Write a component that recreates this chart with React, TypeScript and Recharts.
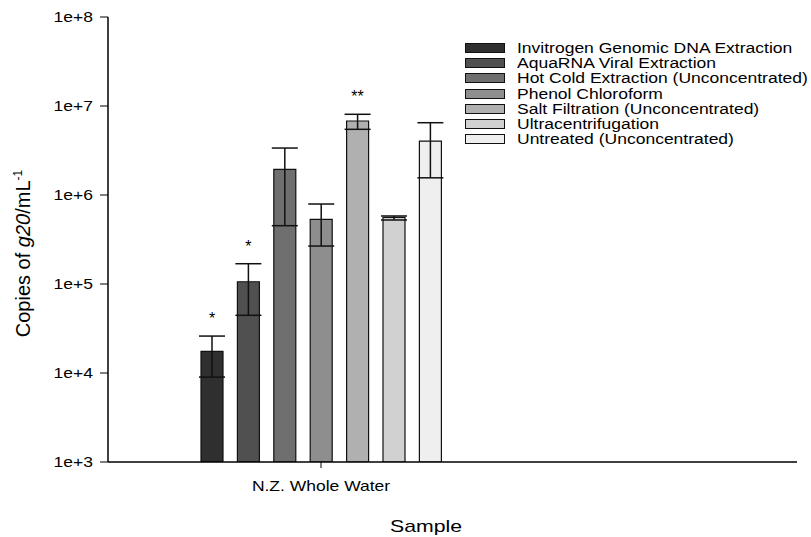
import React from 'react';
import { BarChart, Bar, XAxis, YAxis, ErrorBar, Legend, LabelList, Label } from 'recharts';

const categories = ['N.Z. Whole Water'];
const seriesNames = [
  'Invitrogen Genomic DNA Extraction',
  'AquaRNA Viral Extraction',
  'Hot Cold Extraction (Unconcentrated)',
  'Phenol Chloroform',
  'Salt Filtration (Unconcentrated)',
  'Ultracentrifugation',
  'Untreated (Unconcentrated)',
];
const means = [17500, 106000, 1940000, 533000, 6780000, 561000, 4040000];
const errLower = [9000, 44500, 452000, 267000, 5470000, 524000, 1560000];
const errUpper = [26000, 169000, 3370000, 792000, 8070000, 581000, 6490000];
const significance = ['*', '*', '', '', '**', '', ''];
const yTicks = [1e3, 1e4, 1e5, 1e6, 1e7, 1e8];
const yTickLabels = ['1e+3', '1e+4', '1e+5', '1e+6', '1e+7', '1e+8'];

const fills = ['#2f2f2f', '#505050', '#6f6f6f', '#8e8e8e', '#b0b0b0', '#d1d1d1', '#efefef'];
const FONT = '"Liberation Sans", Arial, sans-serif';
const Y_MIN = 1e3;
const SX = 1.25; // horizontal text stretch seen in the reference

const data = categories.map((name) => {
  const row: Record<string, any> = { name };
  seriesNames.forEach((_, i) => {
    row[`s${i}`] = means[i];
    row[`e${i}`] = [means[i] - errLower[i], errUpper[i] - means[i]];
    row[`sig${i}`] = significance[i];
  });
  return row;
});

const makeSigLabel = (i: number) => (props: any) => {
  const { x, y, width, height, value } = props;
  if (!value) return null;
  const v = means[i];
  const pxPerDecade = height / (Math.log10(v) - Math.log10(Y_MIN));
  const errTopY = y - pxPerDecade * Math.log10(errUpper[i] / v);
  return (
    <text x={x + width / 2} y={errTopY - 12} textAnchor="middle" fontSize={16} fontFamily={FONT} fill="#000">
      {value}
    </text>
  );
};

const renderLegend = () => (
  <div style={{ fontFamily: FONT, fontSize: 14, color: '#000' }}>
    {seriesNames.map((n, i) => (
      <div key={n} style={{ display: 'flex', alignItems: 'center', height: 15.3 }}>
        <span
          style={{
            display: 'inline-block',
            width: 40,
            height: 10,
            background: fills[i],
            border: '1px solid #111',
            boxSizing: 'border-box',
            marginRight: 12,
            flex: 'none',
          }}
        />
        <span
          style={{
            whiteSpace: 'nowrap',
            display: 'inline-block',
            transform: `scaleX(${SX})`,
            transformOrigin: 'left center',
          }}
        >
          {n}
        </span>
      </div>
    ))}
  </div>
);

const YTick = (props: any) => {
  const { x, y, payload } = props;
  const label = yTickLabels[yTicks.indexOf(payload.value)] ?? String(payload.value);
  return (
    <text
      transform={`translate(${x}, ${y}) scale(${SX}, 1)`}
      textAnchor="end"
      dy="0.355em"
      fontSize={14}
      fontFamily={FONT}
      fill="#000"
    >
      {label}
    </text>
  );
};

const XTick = (props: any) => {
  const { x, y, payload } = props;
  return (
    <text
      transform={`translate(${x}, ${y}) scale(${SX}, 1)`}
      textAnchor="middle"
      dy="0.71em"
      fontSize={14}
      fontFamily={FONT}
      fill="#000"
    >
      {payload.value}
    </text>
  );
};

const YTitle = (props: any) => {
  const { viewBox } = props;
  const cy = viewBox.y + viewBox.height / 2 + 14;
  return (
    <text transform={`translate(30, ${cy}) rotate(-90)`} textAnchor="middle" fontSize={20} fontFamily={FONT} fill="#000">
      Copies of <tspan fontStyle="italic">g20</tspan>/mL
      <tspan dy={-8} fontSize={12}>-1</tspan>
    </text>
  );
};

const XTitle = () => (
  <text
    transform={`translate(426, 532) scale(${SX}, 1)`}
    textAnchor="middle"
    fontSize={17}
    fontFamily={FONT}
    fill="#000"
  >
    Sample
  </text>
);

export default function App() {
  return (
    <div style={{ position: 'absolute', left: 0, top: 0, background: '#fff' }}>
      <BarChart
        width={811}
        height={537}
        data={data}
        margin={{ top: 17, right: 14, left: 48, bottom: 35 }}
        barGap={14.4}
        style={{ fontFamily: FONT }}
      >
        <XAxis
          dataKey="name"
          padding={{ left: 63, right: 326 }}
          height={40}
          tickSize={6}
          tickMargin={13}
          interval={0}
          axisLine={{ stroke: '#000', strokeWidth: 1.5 }}
          tickLine={{ stroke: '#000' }}
          tick={<XTick />}
        >
          <Label content={<XTitle />} />
        </XAxis>
        <YAxis
          scale="log"
          type="number"
          domain={[1e3, 1e8]}
          ticks={yTicks}
          allowDataOverflow
          width={60}
          tickSize={8}
          tickMargin={7}
          interval={0}
          axisLine={{ stroke: '#000', strokeWidth: 1.5 }}
          tickLine={{ stroke: '#000' }}
          tick={<YTick />}
        >
          <Label content={<YTitle />} />
        </YAxis>
        <Legend
          layout="vertical"
          align="center"
          verticalAlign="middle"
          content={renderLegend}
          wrapperStyle={{ position: 'absolute', left: 465, top: 40, width: 'auto' }}
        />
        {seriesNames.map((n, i) => (
          <Bar
            key={n}
            dataKey={`s${i}`}
            name={n}
            fill={fills[i]}
            stroke="#111"
            strokeWidth={1.2}
            barSize={22}
            isAnimationActive={false}
          >
            <ErrorBar dataKey={`e${i}`} width={13} stroke="#111" strokeWidth={1.5} direction="y" />
            <LabelList dataKey={`sig${i}`} content={makeSigLabel(i)} />
          </Bar>
        ))}
      </BarChart>
    </div>
  );
}
